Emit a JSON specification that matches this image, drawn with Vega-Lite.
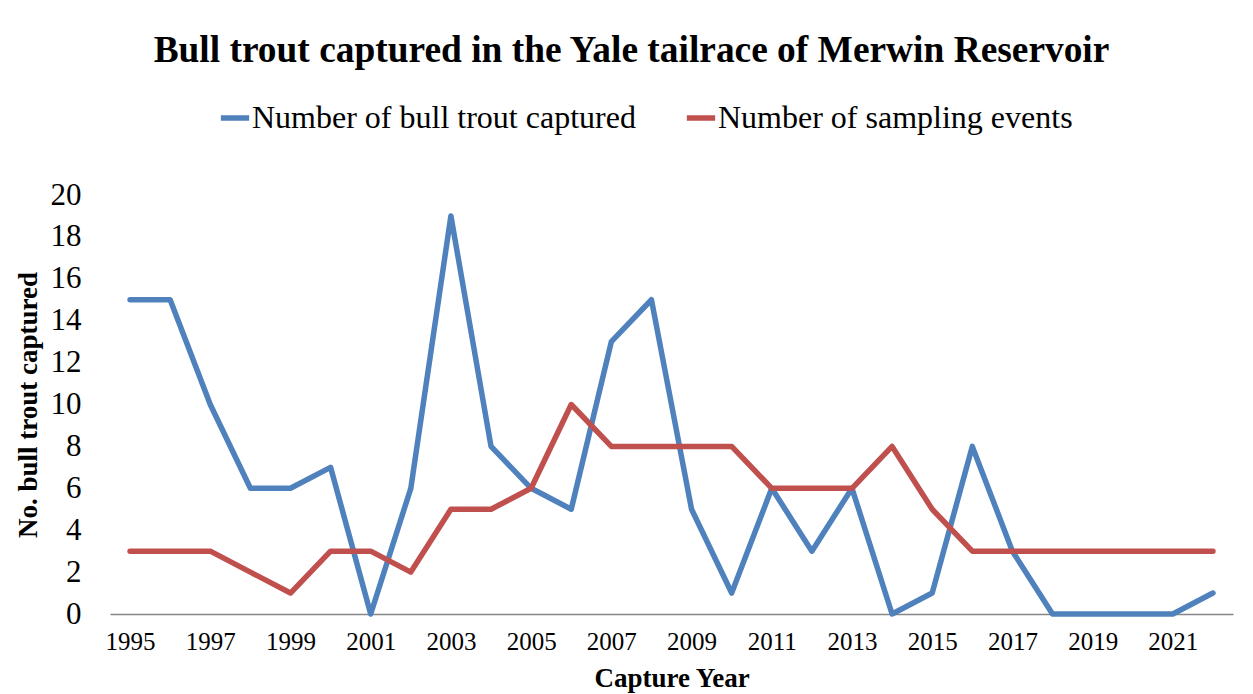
{
  "$schema": "https://vega.github.io/schema/vega-lite/v6.json",
  "autosize": {"type": "none"},
  "width": 1123,
  "height": 419,
  "padding": {"left": 110, "top": 195, "right": 20, "bottom": 80},
  "background": "white",
  "title": {
    "text": "Bull trout captured in the Yale tailrace of Merwin Reservoir",
    "font": "Liberation Serif",
    "fontSize": 37.4,
    "fontWeight": "bold",
    "color": "black",
    "anchor": "middle",
    "frame": "group",
    "offset": 32,
    "dx": -40
  },
  "config": {
    "view": {"stroke": null},
    "font": "Liberation Serif"
  },
  "data": {
    "values": [
      {"year": 1995, "series": "Number of bull trout captured", "value": 15},
      {"year": 1996, "series": "Number of bull trout captured", "value": 15},
      {"year": 1997, "series": "Number of bull trout captured", "value": 10},
      {"year": 1998, "series": "Number of bull trout captured", "value": 6},
      {"year": 1999, "series": "Number of bull trout captured", "value": 6},
      {"year": 2000, "series": "Number of bull trout captured", "value": 7},
      {"year": 2001, "series": "Number of bull trout captured", "value": 0},
      {"year": 2002, "series": "Number of bull trout captured", "value": 6},
      {"year": 2003, "series": "Number of bull trout captured", "value": 19},
      {"year": 2004, "series": "Number of bull trout captured", "value": 8},
      {"year": 2005, "series": "Number of bull trout captured", "value": 6},
      {"year": 2006, "series": "Number of bull trout captured", "value": 5},
      {"year": 2007, "series": "Number of bull trout captured", "value": 13},
      {"year": 2008, "series": "Number of bull trout captured", "value": 15},
      {"year": 2009, "series": "Number of bull trout captured", "value": 5},
      {"year": 2010, "series": "Number of bull trout captured", "value": 1},
      {"year": 2011, "series": "Number of bull trout captured", "value": 6},
      {"year": 2012, "series": "Number of bull trout captured", "value": 3},
      {"year": 2013, "series": "Number of bull trout captured", "value": 6},
      {"year": 2014, "series": "Number of bull trout captured", "value": 0},
      {"year": 2015, "series": "Number of bull trout captured", "value": 1},
      {"year": 2016, "series": "Number of bull trout captured", "value": 8},
      {"year": 2017, "series": "Number of bull trout captured", "value": 3},
      {"year": 2018, "series": "Number of bull trout captured", "value": 0},
      {"year": 2019, "series": "Number of bull trout captured", "value": 0},
      {"year": 2020, "series": "Number of bull trout captured", "value": 0},
      {"year": 2021, "series": "Number of bull trout captured", "value": 0},
      {"year": 2022, "series": "Number of bull trout captured", "value": 1},
      {"year": 1995, "series": "Number of sampling events", "value": 3},
      {"year": 1996, "series": "Number of sampling events", "value": 3},
      {"year": 1997, "series": "Number of sampling events", "value": 3},
      {"year": 1998, "series": "Number of sampling events", "value": 2},
      {"year": 1999, "series": "Number of sampling events", "value": 1},
      {"year": 2000, "series": "Number of sampling events", "value": 3},
      {"year": 2001, "series": "Number of sampling events", "value": 3},
      {"year": 2002, "series": "Number of sampling events", "value": 2},
      {"year": 2003, "series": "Number of sampling events", "value": 5},
      {"year": 2004, "series": "Number of sampling events", "value": 5},
      {"year": 2005, "series": "Number of sampling events", "value": 6},
      {"year": 2006, "series": "Number of sampling events", "value": 10},
      {"year": 2007, "series": "Number of sampling events", "value": 8},
      {"year": 2008, "series": "Number of sampling events", "value": 8},
      {"year": 2009, "series": "Number of sampling events", "value": 8},
      {"year": 2010, "series": "Number of sampling events", "value": 8},
      {"year": 2011, "series": "Number of sampling events", "value": 6},
      {"year": 2012, "series": "Number of sampling events", "value": 6},
      {"year": 2013, "series": "Number of sampling events", "value": 6},
      {"year": 2014, "series": "Number of sampling events", "value": 8},
      {"year": 2015, "series": "Number of sampling events", "value": 5},
      {"year": 2016, "series": "Number of sampling events", "value": 3},
      {"year": 2017, "series": "Number of sampling events", "value": 3},
      {"year": 2018, "series": "Number of sampling events", "value": 3},
      {"year": 2019, "series": "Number of sampling events", "value": 3},
      {"year": 2020, "series": "Number of sampling events", "value": 3},
      {"year": 2021, "series": "Number of sampling events", "value": 3},
      {"year": 2022, "series": "Number of sampling events", "value": 3}
    ]
  },
  "mark": {"type": "line", "strokeWidth": 5.5, "strokeCap": "round", "strokeJoin": "round"},
  "encoding": {
    "x": {
      "field": "year",
      "type": "ordinal",
      "scale": {"type": "point", "padding": 0.5},
      "axis": {
        "title": "Capture Year",
        "titleFont": "Liberation Serif",
        "titleFontSize": 27,
        "titleFontWeight": "bold",
        "titleColor": "black",
        "titlePadding": 11,
        "values": [1995, 1997, 1999, 2001, 2003, 2005, 2007, 2009, 2011, 2013, 2015, 2017, 2019, 2021],
        "labelAngle": 0,
        "labelFont": "Liberation Serif",
        "labelFontSize": 25,
        "labelColor": "black",
        "labelPadding": 15,
        "ticks": false,
        "domainColor": "#868686",
        "domainWidth": 1.5,
        "grid": false
      }
    },
    "y": {
      "field": "value",
      "type": "quantitative",
      "scale": {"domain": [0, 20], "nice": false},
      "axis": {
        "title": "No. bull trout captured",
        "titleFont": "Liberation Serif",
        "titleFontSize": 27,
        "titleFontWeight": "bold",
        "titleColor": "black",
        "titlePadding": 8,
        "values": [0, 2, 4, 6, 8, 10, 12, 14, 16, 18, 20],
        "labelFont": "Liberation Serif",
        "labelFontSize": 31,
        "labelColor": "black",
        "labelPadding": 29,
        "ticks": false,
        "domain": false,
        "grid": false
      }
    },
    "color": {
      "field": "series",
      "type": "nominal",
      "scale": {
        "domain": ["Number of bull trout captured", "Number of sampling events"],
        "range": ["#4F81BD", "#C0504D"]
      },
      "legend": {
        "title": null,
        "orient": "none",
        "direction": "horizontal",
        "legendX": 108,
        "legendY": -94,
        "symbolType": "stroke",
        "symbolSize": 800,
        "symbolStrokeWidth": 5.5,
        "labelFont": "Liberation Serif",
        "labelFontSize": 32,
        "labelColor": "black",
        "labelOffset": 0,
        "labelLimit": 600,
        "columnPadding": 39
      }
    }
  }
}
